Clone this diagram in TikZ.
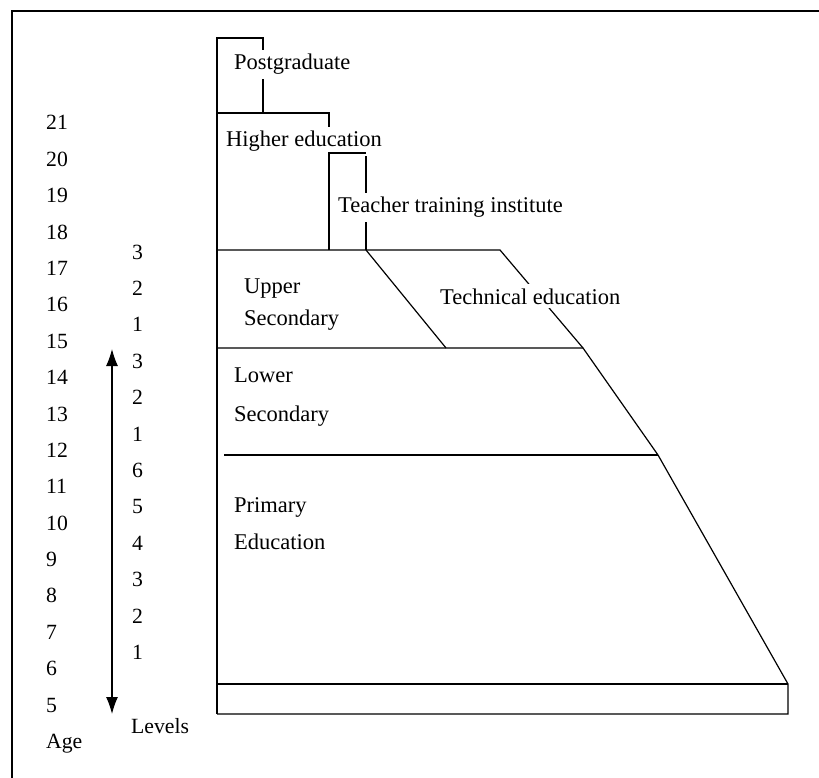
\documentclass[tikz,border=0pt]{standalone}
\usepackage{fontspec}
\setmainfont{Liberation Serif}
\usetikzlibrary{arrows.meta}
\begin{document}
\begin{tikzpicture}[x=1pt,y=-1pt,
  ln/.style={line width=1.2pt, line join=miter},
  lbl/.style={anchor=base west, inner sep=4pt, fill=white, font=\fontsize{22.5}{27}\selectfont},
  num/.style={anchor=base west, inner sep=0pt, font=\fontsize{21.7}{26}\selectfont},
  dblarrow/.style={line width=1.2pt, {Latex[length=17pt,width=12pt]}-{Latex[length=17pt,width=12pt]}}]
\useasboundingbox (0,0) rectangle (819,778);
% frame
\draw[line width=1.8pt] (12,778) -- (12,11) -- (819,11);
% structure
\draw[ln] (217,714) -- (217,38) -- (263,38) -- (263,113);
\draw[ln] (217,113) -- (329,113) -- (329,153);
\draw[ln] (366,153) -- (366,250);
\draw[ln] (217,250) -- (500,250) -- (583,348);
\draw[ln] (366,250) -- (446,348);
\draw[ln] (217,348) -- (583,348) -- (658,455) -- (788,684) -- (788,714) -- (217,714);
\draw[ln] (224,455) -- (658,455);
\draw[ln] (217,684) -- (788,684);
% labels
\node[lbl] (pg) at (230,70) {Postgraduate};
\node[lbl] (he) at (222,147) {Higher education};
\node[lbl] (tt) at (334,213) {Teacher training institute};
\node[lbl] (up1) at (240,293) {Upper};
\node[lbl] (up2) at (240,325) {Secondary};
\node[lbl] (te) at (436,304) {Technical education};
\node[lbl] (lo1) at (230,382) {Lower};
\node[lbl] (lo2) at (230,421) {Secondary};
\node[lbl] (pr1) at (230,512) {Primary};
\node[lbl] (pr2) at (230,549) {Education};
% teacher training box edges drawn over the labels
\draw[ln] (329,250) -- (329,153) -- (366,153);
% ages
\foreach \a [count=\i from 0] in {21,20,...,5}
  \node[num] (age\a) at (46,130+36.375*\i) {\a};
\node[num] (agelbl) at (46,748) {Age};
% levels
\foreach \l [count=\i from 0] in {3,2,1,3,2,1,6,5,4,3,2,1}
  \node[num] (lev\i) at (132,259+36.4*\i) {\l};
\node[num] (levlbl) at (131,733) {Levels};
% arrow
\coordinate (atop) at (112,349);
\coordinate (abot) at (112,714);
\draw[dblarrow] (atop) -- (abot);
\end{tikzpicture}
\end{document}
